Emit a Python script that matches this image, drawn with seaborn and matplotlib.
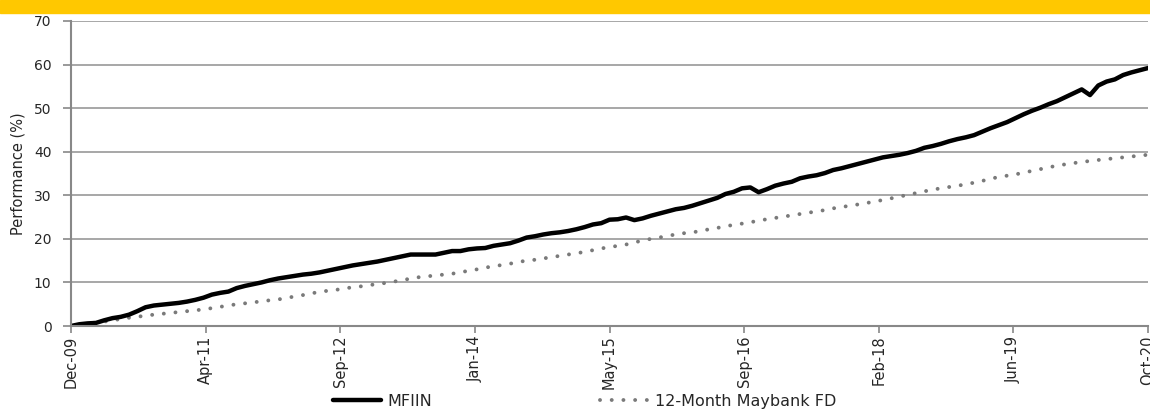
import numpy as np
import pandas as pd
import matplotlib.pyplot as plt
import seaborn as sns
from matplotlib.patches import Rectangle

# 월별 누적 수익률 (Dec-09 ~ Oct-20)
mfiin = [0.0, 0.4, 0.6, 0.7, 1.3, 1.8, 2.1, 2.6, 3.4, 4.3,
         4.7, 4.9, 5.1, 5.3, 5.6, 6.0, 6.5, 7.2, 7.6, 7.9,
         8.7, 9.2, 9.6, 10.0, 10.5, 10.9, 11.2, 11.5, 11.8, 12.0,
         12.3, 12.7, 13.1, 13.5, 13.9, 14.2, 14.5, 14.8, 15.2, 15.6,
         16.0, 16.4, 16.4, 16.4, 16.4, 16.8, 17.2, 17.2, 17.6, 17.8,
         17.9, 18.4, 18.7, 19.0, 19.6, 20.3, 20.6, 21.0, 21.3, 21.5,
         21.8, 22.2, 22.7, 23.3, 23.6, 24.4, 24.5, 24.9, 24.3, 24.7,
         25.3, 25.8, 26.3, 26.8, 27.1, 27.6, 28.2, 28.8, 29.4, 30.3,
         30.8, 31.6, 31.8, 30.7, 31.4, 32.2, 32.7, 33.1, 33.9, 34.3,
         34.6, 35.1, 35.8, 36.2, 36.7, 37.2, 37.7, 38.2, 38.7, 39.0,
         39.3, 39.7, 40.2, 40.9, 41.3, 41.8, 42.4, 42.9, 43.3, 43.8,
         44.6, 45.4, 46.1, 46.8, 47.7, 48.6, 49.4, 50.1, 50.9, 51.6,
         52.5, 53.4, 54.3, 53.0, 55.2, 56.1, 56.6, 57.6, 58.2, 58.7,
         59.2]

fd = [0.0, 0.2, 0.5, 0.8, 1.0, 1.3, 1.6, 1.9, 2.1, 2.4,
      2.6, 2.8, 3.0, 3.2, 3.4, 3.6, 3.8, 4.1, 4.4, 4.7,
      5.0, 5.2, 5.4, 5.7, 5.9, 6.1, 6.4, 6.8, 7.1, 7.5,
      7.8, 8.1, 8.3, 8.6, 8.9, 9.1, 9.4, 9.6, 9.9, 10.2,
      10.5, 10.9, 11.2, 11.4, 11.6, 11.8, 12.0, 12.3, 12.7, 13.0,
      13.4, 13.7, 14.0, 14.3, 14.7, 15.0, 15.2, 15.5, 15.8, 16.1,
      16.4, 16.7, 17.0, 17.4, 17.8, 18.1, 18.4, 18.7, 19.2, 19.6,
      20.0, 20.3, 20.7, 21.0, 21.3, 21.5, 21.8, 22.2, 22.5, 22.9,
      23.2, 23.5, 23.8, 24.2, 24.5, 24.8, 25.1, 25.4, 25.7, 26.0,
      26.3, 26.6, 27.0, 27.3, 27.6, 27.9, 28.2, 28.6, 28.9, 29.3,
      29.7, 30.1, 30.5, 30.9, 31.3, 31.6, 31.9, 32.2, 32.5, 32.9,
      33.3, 33.8, 34.2, 34.5, 34.8, 35.2, 35.6, 36.0, 36.4, 36.8,
      37.1, 37.4, 37.6, 37.9, 38.1, 38.3, 38.5, 38.7, 38.9, 39.1,
      39.3]

tick_labels = ['Dec-09', 'Apr-11', 'Sep-12', 'Jan-14', 'May-15',
               'Sep-16', 'Feb-18', 'Jun-19', 'Oct-20']

df = pd.DataFrame({'month': np.arange(len(mfiin)), 'MFIIN': mfiin, 'FD': fd})

sns.set_style('white')
plt.rcParams['font.family'] = ['DejaVu Sans']

fig = plt.figure(figsize=(11.5, 4.11), dpi=100)
ax = fig.add_axes([71 / 1150, 1 - 326 / 411, 1077 / 1150, 305 / 411])

# 상단 노란 띠
fig.patches.append(Rectangle((0, 1 - 13 / 411), 1, 13 / 411, transform=fig.transFigure,
                             color='#ffc800', zorder=0))

sns.lineplot(data=df, x='month', y='FD', ax=ax, color='#7a7a7a', linewidth=2.8,
             linestyle=(0, (0.01, 3.0)), dash_capstyle='round', label='12-Month Maybank FD')
sns.lineplot(data=df, x='month', y='MFIIN', ax=ax, color='black', linewidth=3.2,
             label='MFIIN')

ax.set_xlim(0, len(mfiin) - 1)
ax.set_ylim(0, 70)
ax.set_yticks(range(0, 71, 10))
ax.set_xticks(np.linspace(0, len(mfiin) - 1, len(tick_labels)))
ax.set_xticklabels(tick_labels, rotation=90, fontsize=10.5)
ax.tick_params(axis='y', labelsize=10, length=6, width=1.2, color='#888888', pad=8)
ax.tick_params(axis='x', length=5, width=1.2, color='#888888', pad=2, direction='out')
ax.tick_params(axis='both', bottom=True, left=True)
ax.grid(axis='y', color='#a0a0a0', linewidth=1.3)
ax.set_axisbelow(True)
for s in ['top', 'right']:
    ax.spines[s].set_visible(False)
for s in ['left', 'bottom']:
    ax.spines[s].set_color('#888888')
    ax.spines[s].set_linewidth(1.5)

ax.set_xlabel('')
ax.set_ylabel('Performance (%)', fontsize=10.5, labelpad=6)

h, l = ax.get_legend_handles_labels()
ax.legend(h[::-1], l[::-1], loc='center left', bbox_to_anchor=(325 / 1150, 10 / 411),
          bbox_transform=fig.transFigure, ncol=2, frameon=False, borderpad=0,
          prop={'family': 'DejaVu Sans', 'size': 11.5},
          handlelength=3.0, columnspacing=10.5, handletextpad=0.42)

fig.savefig('out.png', dpi=100)
